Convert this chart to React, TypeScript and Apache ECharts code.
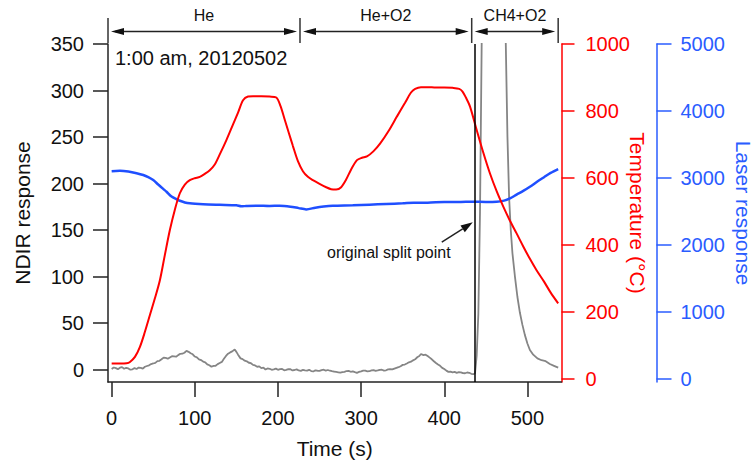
import React, { useEffect, useRef } from "react";
import * as echarts from "echarts";

// ---- Data ----
const ndirTime = [
  0, 2.5, 5, 7.5, 10, 12.5, 15, 17.5, 20, 22.5, 25, 27.5, 30, 32.5, 35, 37.5, 40, 42.5, 45, 47.5,
  50, 52.5, 55, 57.5, 60, 62.5, 65, 67.5, 70, 72.5, 75, 77.5, 80, 82.5, 85, 87.5, 90, 92.5, 95, 97.5,
  100, 102.5, 105, 107.5, 110, 112.5, 115, 117.5, 120, 122.5, 125, 127.5, 130, 132.5, 135, 137.5, 140, 142.5, 145, 148,
  150, 152, 155, 157.5, 160, 162.5, 165, 167.5, 170, 172.5, 175, 177.5, 180, 182.5, 185, 187.5, 190, 192.5, 195, 197.5,
  200, 202.5, 205, 207.5, 210, 212.5, 215, 217.5, 220, 222.5, 225, 227.5, 230, 232.5, 235, 237.5, 240, 242.5, 245, 247.5,
  250, 252.5, 255, 257.5, 260, 262.5, 265, 267.5, 270, 272.5, 275, 277.5, 280, 282.5, 285, 287.5, 290, 292.5, 295, 297.5,
  300, 302.5, 305, 307.5, 310, 312.5, 315, 317.5, 320, 322.5, 325, 327.5, 330, 332.5, 335, 337.5, 340, 342.5, 345, 347.5,
  350, 352.5, 355, 357.5, 360, 362.5, 365, 367.5, 370, 372, 375, 377.5, 380, 382.5, 385, 387.5, 390, 392.5, 395, 397.5,
  400, 402.5, 405, 407.5, 410, 412.5, 415, 417.5, 420, 422.5, 425, 427.5, 430, 432.5, 435, 437,
  439, 441, 443, 445, 447, 450, 460, 470, 472, 474, 476, 478, 480, 482, 485, 488, 491, 494, 497, 500,
  503, 507, 512, 517, 522, 527, 532, 537,
];
const ndirValues = [
  0.5, 2.2, 1.5, 0.4, 2, 2.6, 0.8, 1.9, 1.2, -0.2, 0.3, 1.5, 0.6, 2.1, 1.8, 0.9, 3, 3.8, 4.5, 5.9,
  6.5, 7.2, 9, 9.4, 11, 12.8, 12.5, 11.6, 13, 14.4, 14.2, 13.8, 15.5, 16.9, 17, 18.1, 20, 19, 17.5, 16.4,
  14, 13.1, 11, 10.2, 8.5, 7.8, 5.5, 4.6, 3, 3.9, 4, 5.8, 7, 8.2, 11.5, 14.6, 17, 18.4, 19.5, 21.5,
  19, 16, 12, 11.2, 9.5, 8.9, 7.3, 6.8, 5, 4.4, 3, 3.4, 1.5, 2, 0, 1.2, 0.8, -0.3, 0.2, 1,
  -0.3, 0.4, 0.6, -0.8, -0.4, 0.5, 0.3, -1, -0.5, 0.2, -1, -1.4, -0.4, -0.9, -1.2, -0.3, -1.6, -2.1, -0.8, -1.3,
  -1.5, -0.6, -0.2, -1.1, -0.5, -1.3, -1.8, -2.2, -2.6, -3, -3.4, -2.8, -2.5, -1.6, -1.5, -2.4, -2, -2.8, -3.5, -2.6,
  -2, -1.1, -1.2, -2, -1.8, -0.9, -0.6, -1.4, -1, -0.3, -0.2, -1.1, -0.8, 0.2, 0.5, 0.1, 1, 1.8, 2.5, 3.6,
  5, 5.4, 6.5, 7.8, 8.4, 9.9, 11, 13.2, 14.5, 16.7, 15.5, 16, 14.5, 12.8, 11, 8.9, 7, 5.4, 4, 1.8,
  0.5, -1.2, -2.5, -2.2, -3, -2.6, -3.5, -2.8, -3, -3.9, -4, -3.2, -3.5, -4.6, -5, -4,
  15, 60, 170, 350, 600, 900, 1100, 800, 520, 350, 250, 185, 150, 125, 100, 78, 61, 48, 37, 28,
  21, 16, 12, 10, 9, 6, 4, 2,
];

const tempTime = [
  0, 10, 18, 22, 28, 34, 40, 46, 52, 58, 64, 70, 76, 82, 88, 94, 100, 106, 112, 118,
  124, 130, 138, 146, 152, 158, 164, 170, 180, 190, 198, 203, 208, 213, 218, 224, 230, 236, 242, 250,
  258, 264, 270, 276, 282, 288, 295, 301, 307, 315, 323, 333, 343, 353, 360, 365, 372, 380, 390, 400,
  410, 418, 422, 426, 431, 439, 447, 455, 463, 471, 479, 487, 495, 503, 511, 520, 528, 537,
];
const tempValues = [
  45, 45, 46, 50, 65, 95, 140, 190, 240, 294, 370, 444, 505, 554, 580, 593, 599, 603, 612, 623,
  640, 670, 713, 760, 795, 832, 843, 844, 844, 843, 840, 815, 775, 735, 695, 650, 620, 603, 593, 582,
  572, 566, 565, 572, 595, 625, 653, 660, 664, 680, 703, 740, 783, 825, 855, 866, 871, 871, 870, 870,
  869, 866, 858, 840, 813, 743, 675, 613, 560, 514, 472, 434, 395, 358, 324, 290, 257, 225,
];

const laserTime = [
  0, 10, 20, 30, 38, 44, 50, 56, 62, 66, 72, 78, 82, 88, 94, 110, 130, 150, 156, 162,
  175, 190, 202, 215, 225, 234, 245, 255, 266, 290, 310, 330, 350, 363, 380, 400, 420, 435, 450, 463,
  472, 479, 487, 495, 503, 512, 520, 528, 537,
];
const laserValues = [
  3100, 3106, 3095, 3070, 3042, 3010, 2967, 2900, 2835, 2792, 2720, 2680, 2658, 2632, 2619, 2607, 2598, 2590, 2575, 2580,
  2585, 2580, 2583, 2570, 2548, 2529, 2555, 2572, 2583, 2590, 2600, 2610, 2620, 2628, 2630, 2638, 2640, 2643, 2640, 2643,
  2660, 2693, 2750, 2805, 2867, 2945, 3010, 3075, 3132,
];

const xTicks = [0, 100, 200, 300, 400, 500];
const ndirTicks = [0, 50, 100, 150, 200, 250, 300, 350];
const tempTicks = [0, 200, 400, 600, 800, 1000];
const laserTicks = [0, 1000, 2000, 3000, 4000, 5000];

const phaseBounds = [-4.4, 226.5, 433, 537];
const phaseLabels = ["He", "He+O2", "CH4+O2"];
const splitTime = 437;

const FONT = "'Liberation Sans', Arial, Helvetica, sans-serif";
const RED = "#ff0000";
const BLUE = "#1f4fff";
const BLUE_AXIS = "#2a5cff";
const GRAY = "#858585";

const zip = (xs: number[], ys: number[]) => xs.map((x, i) => [x, ys[i]]);

export default function App() {
  const ref = useRef<HTMLDivElement>(null);

  useEffect(() => {
    if (!ref.current) return;
    const chart = echarts.init(ref.current, undefined, { renderer: "svg" });

    const tickLabel = (color: string) => ({
      color,
      fontSize: 20,
      fontFamily: FONT,
      formatter: (v: number) => String(v),
    });

    const option: any = {
      animation: false,
      grid: {
        left: 108,
        right: 194.5,
        top: 44,
        bottom: 87,
        containLabel: false,
        outerBoundsMode: "none",
      },
      xAxis: {
        type: "value",
        min: -4.4,
        max: 541,
        name: "Time (s)",
        nameLocation: "middle",
        nameGap: 56,
        nameMoveOverlap: false,
        nameTextStyle: { fontSize: 21, fontFamily: FONT, color: "#111" },
        axisLine: { show: true, onZero: false, lineStyle: { color: "#222", width: 1.5 } },
        axisTick: {
          show: true,
          length: 15,
          inside: false,
          customValues: xTicks,
          lineStyle: { color: "#222", width: 1.5 },
        },
        axisLabel: { ...tickLabel("#111"), margin: 26, customValues: xTicks },
        splitLine: { show: false },
      },
      yAxis: [
        {
          type: "value",
          min: -13.4,
          max: 350,
          position: "left",
          name: "NDIR response",
          nameLocation: "middle",
          nameGap: 75,
          nameMoveOverlap: false,
          nameTextStyle: { fontSize: 21, fontFamily: FONT, color: "#111" },
          axisLine: { show: true, onZero: false, lineStyle: { color: "#222", width: 1.5 } },
          axisTick: {
            show: true,
            length: 15,
            customValues: ndirTicks,
            lineStyle: { color: "#222", width: 1.5 },
          },
          axisLabel: { ...tickLabel("#111"), margin: 24, customValues: ndirTicks },
          splitLine: { show: false },
        },
        {
          type: "value",
          min: -10,
          max: 1000,
          position: "right",
          offset: 0,
          name: "Temperature (°C)",
          nameLocation: "middle",
          nameGap: 65,
          nameRotate: -90,
          nameMoveOverlap: false,
          nameTextStyle: { fontSize: 21, fontFamily: FONT, color: RED },
          axisLine: { show: true, onZero: false, lineStyle: { color: RED, width: 1.5 } },
          axisTick: {
            show: true,
            length: 13,
            customValues: tempTicks,
            lineStyle: { color: RED, width: 1.5 },
          },
          axisLabel: { ...tickLabel(RED), margin: 24, customValues: tempTicks },
          splitLine: { show: false },
        },
        {
          type: "value",
          min: -50,
          max: 5000,
          position: "right",
          offset: 95,
          name: "Laser response",
          nameLocation: "middle",
          nameGap: 76,
          nameRotate: -90,
          nameMoveOverlap: false,
          nameTextStyle: { fontSize: 21, fontFamily: FONT, color: BLUE_AXIS },
          axisLine: { show: true, onZero: false, lineStyle: { color: BLUE_AXIS, width: 1.5 } },
          axisTick: {
            show: true,
            length: 15,
            customValues: laserTicks,
            lineStyle: { color: BLUE_AXIS, width: 1.5 },
          },
          axisLabel: { ...tickLabel(BLUE_AXIS), margin: 24, customValues: laserTicks },
          splitLine: { show: false },
        },
      ],
      series: [
        {
          name: "NDIR",
          type: "line",
          xAxisIndex: 0,
          yAxisIndex: 0,
          data: zip(ndirTime, ndirValues),
          showSymbol: false,
          symbol: "none",
          clip: true,
          lineStyle: { color: GRAY, width: 1.8 },
          z: 2,
          markLine: {
            silent: true,
            symbol: "none",
            label: { show: false },
            lineStyle: { color: "#000", width: 1.5, type: "solid" },
            data: [{ xAxis: splitTime }],
          },
        },
        {
          name: "Laser",
          type: "line",
          xAxisIndex: 0,
          yAxisIndex: 2,
          data: zip(laserTime, laserValues),
          showSymbol: false,
          symbol: "none",
          smooth: 0.3,
          clip: true,
          lineStyle: { color: BLUE, width: 2.5 },
          z: 3,
        },
        {
          name: "Temperature",
          type: "line",
          xAxisIndex: 0,
          yAxisIndex: 1,
          data: zip(tempTime, tempValues),
          showSymbol: false,
          symbol: "none",
          smooth: 0.3,
          clip: true,
          lineStyle: { color: RED, width: 2 },
          z: 4,
        },
      ],
    };

    chart.setOption(option);

    // ---- Annotations placed via the chart's own coordinate conversion ----
    const px = (t: number, v: number) =>
      chart.convertToPixel({ xAxisIndex: 0, yAxisIndex: 0 }, [t, v]) as number[];

    const graphics: any[] = [];
    const arrowColor = "#222";
    const arrowY = 31.5;
    const headLen = 13;
    const headHalf = 3.5;

    const bx = phaseBounds.map((b) => px(b, 0)[0]);
    bx.forEach((x) => {
      graphics.push({
        type: "line",
        shape: { x1: x, y1: 18, x2: x, y2: 43 },
        style: { stroke: "#333", lineWidth: 1.5 },
      });
    });
    for (let i = 0; i < phaseLabels.length; i++) {
      const x0 = bx[i] + 3;
      const x1 = bx[i + 1] - 3;
      graphics.push({
        type: "line",
        shape: { x1: x0 + 4, y1: arrowY, x2: x1 - 4, y2: arrowY },
        style: { stroke: arrowColor, lineWidth: 1.6 },
      });
      graphics.push({
        type: "polygon",
        shape: {
          points: [
            [x0, arrowY],
            [x0 + headLen, arrowY - headHalf],
            [x0 + headLen, arrowY + headHalf],
          ],
        },
        style: { fill: "#111" },
      });
      graphics.push({
        type: "polygon",
        shape: {
          points: [
            [x1, arrowY],
            [x1 - headLen, arrowY - headHalf],
            [x1 - headLen, arrowY + headHalf],
          ],
        },
        style: { fill: "#111" },
      });
      graphics.push({
        type: "text",
        x: (bx[i] + bx[i + 1]) / 2,
        y: 15,
        style: {
          text: phaseLabels[i],
          fontSize: 16,
          fontFamily: FONT,
          fill: "#111",
          align: "center",
          verticalAlign: "middle",
        },
      });
    }

    // date label
    const dp = px(4, 335);
    graphics.push({
      type: "text",
      x: dp[0],
      y: dp[1],
      style: {
        text: "1:00 am, 20120502",
        fontSize: 20,
        fontFamily: FONT,
        fill: "#111",
        align: "left",
        verticalAlign: "middle",
      },
    });

    // "original split point" annotation
    const tp = px(259, 126);
    graphics.push({
      type: "text",
      x: tp[0],
      y: tp[1],
      style: {
        text: "original split point",
        fontSize: 16,
        fontFamily: FONT,
        fill: "#111",
        align: "left",
        verticalAlign: "middle",
      },
    });
    const a0 = px(397, 137);
    const a1 = px(434.3, 158.3);
    const dx = a1[0] - a0[0];
    const dy = a1[1] - a0[1];
    const len = Math.hypot(dx, dy);
    const ux = dx / len;
    const uy = dy / len;
    const hx = a1[0] - ux * 12;
    const hy = a1[1] - uy * 12;
    graphics.push({
      type: "line",
      shape: { x1: a0[0], y1: a0[1], x2: hx, y2: hy },
      style: { stroke: "#222", lineWidth: 1.5 },
    });
    graphics.push({
      type: "polygon",
      shape: {
        points: [
          [a1[0], a1[1]],
          [hx - uy * 4, hy + ux * 4],
          [hx + uy * 4, hy - ux * 4],
        ],
      },
      style: { fill: "#111" },
    });

    chart.setOption({ graphic: graphics });

    return () => {
      chart.dispose();
    };
  }, []);

  return (
    <div
      ref={ref}
      style={{ position: "fixed", left: 0, top: 0, width: 756, height: 469, background: "#fff" }}
    />
  );
}
